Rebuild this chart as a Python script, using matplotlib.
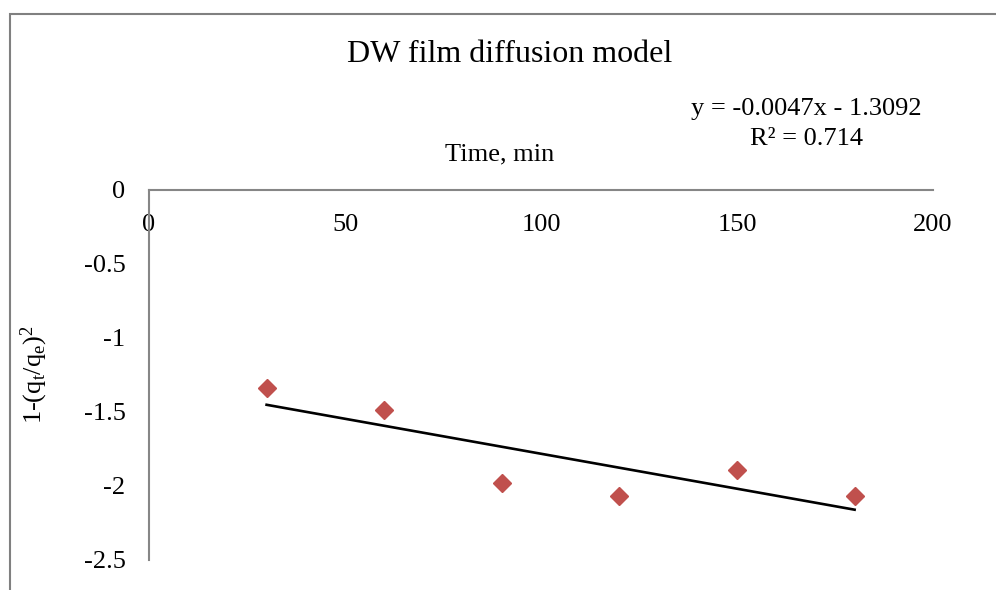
import numpy as np
import matplotlib
matplotlib.use('Agg')
import matplotlib.pyplot as plt
from matplotlib.patches import Rectangle

# 数据
time_min = [30, 60, 90, 120, 150, 180]
film_diff = [-1.338, -1.486, -1.98, -2.07, -1.89, -2.07]
x_ticks = [0, 50, 100, 150, 200]
y_ticks = [0, -0.5, -1, -1.5, -2, -2.5]

plt.rcParams['font.family'] = ['Liberation Serif', 'DejaVu Serif']
plt.rcParams['mathtext.fontset'] = 'custom'
plt.rcParams['mathtext.rm'] = 'Liberation Serif'
plt.rcParams['mathtext.it'] = 'Liberation Serif'

W, H = 996, 590
fig = plt.figure(figsize=(W / 100, H / 100), dpi=100)

# chart border (Excel style, right/bottom cut off)
fig.patches.append(Rectangle((10 / W, -0.1), 1.2, 1 - 14 / H + 0.1, transform=fig.transFigure,
                             fill=False, edgecolor='#808080', linewidth=1.5))

ax = fig.add_axes([149 / W, 1 - 560 / H, (933 - 149) / W, (560 - 190) / H])
ax.set_xlim(0, 200)
ax.set_ylim(-2.5, 0)

ax.plot(time_min, film_diff, linestyle='none', marker='D', markersize=9,
        color='#C0504D', markeredgecolor='#C0504D')

# 线性趋势线
slope, intercept = np.polyfit(time_min, film_diff, 1)
xs = np.array([time_min[0], time_min[-1]])
ax.plot(xs, slope * xs + intercept, color='black', linewidth=1.9)

# 坐标轴样式
for s in ['right', 'top']:
    ax.spines[s].set_visible(False)
ax.spines['bottom'].set_position(('data', 0))
ax.spines['bottom'].set_color('#868686')
ax.spines['left'].set_color('#868686')
ax.spines['bottom'].set_linewidth(1.5)
ax.spines['left'].set_linewidth(1.5)

ax.set_xticks(x_ticks)
ax.set_yticks(y_ticks)
ax.set_yticklabels([f'{v:g}' for v in y_ticks])
ax.tick_params(axis='both', length=0, labelsize=19)
ax.tick_params(axis='x', pad=17)
ax.tick_params(axis='y', pad=17)

ax.set_xlabel('Time, min', fontsize=19)
ax.xaxis.set_label_position('top')
ax.xaxis.labelpad = 21
ax.xaxis.label.set_x((500 - 149) / (933 - 149))
ax.set_ylabel('1-(q$_\\mathregular{t}$/q$_\\mathregular{e}$)$^\\mathregular{2}$', fontsize=19, labelpad=24)

fig.text(510 / W, 1 - 55 / H, 'DW film diffusion model', fontsize=23, ha='center', va='center')
fig.text(806 / W, 1 - 124 / H, 'y = -0.0047x - 1.3092\nR² = 0.714', fontsize=19,
         ha='center', va='center', linespacing=1.42)

fig.savefig('out.png', dpi=100)
